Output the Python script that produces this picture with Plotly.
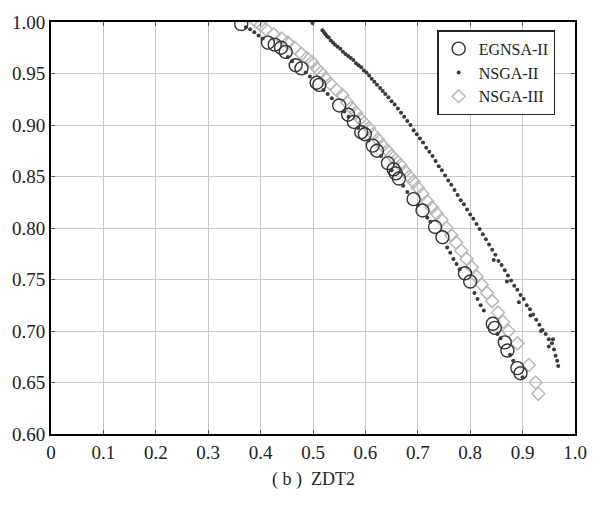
import plotly.graph_objects as go

# EGNSA-II (open circles)
egnsa_x = [0.363, 0.414, 0.427, 0.439, 0.448, 0.467, 0.478, 0.507, 0.512, 0.550, 0.567, 0.578,
           0.592, 0.599, 0.614, 0.622, 0.643, 0.654, 0.658, 0.664, 0.692, 0.709, 0.733, 0.747,
           0.790, 0.800, 0.843, 0.847, 0.866, 0.871, 0.890, 0.896]
egnsa_y = [0.998, 0.980, 0.978, 0.975, 0.971, 0.958, 0.955, 0.941, 0.939, 0.919, 0.910, 0.903,
           0.893, 0.891, 0.880, 0.875, 0.863, 0.857, 0.853, 0.848, 0.828, 0.817, 0.801, 0.791,
           0.756, 0.748, 0.707, 0.703, 0.689, 0.681, 0.664, 0.659]

# NSGA-II (dots) - outer front
nsga2_x = [0.499, 0.518, 0.521, 0.524, 0.527, 0.530, 0.534, 0.538, 0.542, 0.547, 0.552, 0.557,
           0.562, 0.567, 0.572, 0.577, 0.582, 0.587, 0.592, 0.597, 0.602, 0.607, 0.612, 0.617,
           0.622, 0.628, 0.633, 0.638, 0.644, 0.650, 0.656, 0.662, 0.668, 0.674, 0.680, 0.686,
           0.692, 0.698, 0.704, 0.710, 0.716, 0.722, 0.728, 0.734, 0.740, 0.746, 0.752, 0.758,
           0.764, 0.770, 0.776, 0.782, 0.788, 0.794, 0.800, 0.806, 0.812, 0.818, 0.824, 0.830,
           0.836, 0.842, 0.848, 0.854, 0.860, 0.866, 0.872, 0.878, 0.884, 0.890, 0.896, 0.902,
           0.908, 0.914, 0.920, 0.926, 0.932, 0.938, 0.944, 0.950, 0.956, 0.960, 0.963, 0.966,
           0.968, 0.845, 0.870, 0.893, 0.915, 0.935, 0.950, 0.958]
nsga2_y = [0.999, 0.992, 0.990, 0.988, 0.986, 0.985, 0.982, 0.980, 0.978, 0.976, 0.974, 0.971,
           0.969, 0.967, 0.965, 0.963, 0.960, 0.958, 0.956, 0.953, 0.951, 0.948, 0.945, 0.942,
           0.939, 0.936, 0.933, 0.930, 0.927, 0.923, 0.920, 0.916, 0.912, 0.908, 0.904, 0.900,
           0.895, 0.891, 0.887, 0.883, 0.878, 0.874, 0.870, 0.865, 0.860, 0.856, 0.851, 0.846,
           0.842, 0.837, 0.832, 0.827, 0.823, 0.818, 0.813, 0.809, 0.804, 0.799, 0.794, 0.789,
           0.784, 0.779, 0.774, 0.768, 0.764, 0.759, 0.754, 0.749, 0.744, 0.740, 0.735, 0.731,
           0.725, 0.721, 0.716, 0.711, 0.706, 0.701, 0.697, 0.692, 0.688, 0.682, 0.676, 0.671,
           0.666, 0.769, 0.748, 0.728, 0.715, 0.700, 0.685, 0.692]

# dark dots along the inner front
inner_x = [0.372, 0.380, 0.388, 0.396, 0.404, 0.452, 0.460, 0.486, 0.494, 0.520, 0.528, 0.536,
           0.560, 0.568, 0.586, 0.606, 0.630, 0.650, 0.672, 0.680, 0.700, 0.718, 0.724, 0.756,
           0.762, 0.768, 0.774, 0.780, 0.808, 0.814, 0.820, 0.826, 0.852, 0.858, 0.876, 0.882,
           0.900]
inner_y = [0.995, 0.993, 0.990, 0.987, 0.984, 0.966, 0.962, 0.951, 0.947, 0.934, 0.930, 0.926,
           0.913, 0.908, 0.897, 0.885, 0.870, 0.856, 0.841, 0.835, 0.822, 0.810, 0.806, 0.781,
           0.776, 0.770, 0.765, 0.760, 0.737, 0.731, 0.725, 0.720, 0.697, 0.693, 0.677, 0.671,
           0.655]

# NSGA-III (open diamonds)
nsga3_x = [0.392, 0.400, 0.410, 0.425, 0.440, 0.452, 0.465, 0.478, 0.488, 0.498, 0.507, 0.515,
           0.524, 0.533, 0.545, 0.556, 0.565, 0.573, 0.582, 0.590, 0.598, 0.607, 0.615, 0.624,
           0.633, 0.642, 0.650, 0.658, 0.667, 0.676, 0.684, 0.692, 0.700, 0.709, 0.718, 0.727,
           0.736, 0.745, 0.755, 0.764, 0.773, 0.783, 0.793, 0.803, 0.812, 0.822, 0.832, 0.842,
           0.853, 0.863, 0.873, 0.890, 0.912, 0.925, 0.930]
nsga3_y = [1.000, 0.997, 0.993, 0.988, 0.984, 0.980, 0.975, 0.969, 0.965, 0.961, 0.955, 0.951,
           0.945, 0.940, 0.934, 0.929, 0.922, 0.917, 0.912, 0.906, 0.902, 0.897, 0.891, 0.886,
           0.880, 0.875, 0.870, 0.866, 0.861, 0.855, 0.850, 0.845, 0.839, 0.833, 0.826, 0.820,
           0.814, 0.808, 0.800, 0.793, 0.786, 0.778, 0.770, 0.762, 0.753, 0.745, 0.737, 0.729,
           0.718, 0.709, 0.700, 0.688, 0.667, 0.650, 0.639]

x_ticks = [0, 0.1, 0.2, 0.3, 0.4, 0.5, 0.6, 0.7, 0.8, 0.9, 1.0]
x_labels = ["0", "0.1", "0.2", "0.3", "0.4", "0.5", "0.6", "0.7", "0.8", "0.9", "1.0"]
y_ticks = [0.60, 0.65, 0.70, 0.75, 0.80, 0.85, 0.90, 0.95, 1.00]
y_labels = ["0.60", "0.65", "0.70", "0.75", "0.80", "0.85", "0.90", "0.95", "1.00"]

FONT = "Liberation Serif"

fig = go.Figure()
fig.add_trace(go.Scatter(
    x=nsga3_x, y=nsga3_y, mode="markers", name="NSGA-III", legendrank=3,
    marker=dict(symbol="diamond-open", size=10, color="#b8b8b8", line=dict(width=1.5))))
fig.add_trace(go.Scatter(
    x=egnsa_x, y=egnsa_y, mode="markers", name="EGNSA-II", legendrank=1,
    marker=dict(symbol="circle-open", size=13, color="#333333", line=dict(width=1.4))))
fig.add_trace(go.Scatter(
    x=nsga2_x, y=nsga2_y, mode="markers", name="NSGA-II", legendrank=2,
    marker=dict(symbol="circle", size=4, color="#3a3a3a")))
fig.add_trace(go.Scatter(
    x=inner_x, y=inner_y, mode="markers", name="NSGA-II", showlegend=False,
    marker=dict(symbol="circle", size=4, color="#3a3a3a")))

axis_common = dict(
    showline=True, linecolor="black", linewidth=2, mirror="ticks",
    ticks="inside", ticklen=4, tickcolor="#555555", tickwidth=1,
    showgrid=True, gridcolor="#c8c8c8", gridwidth=1.4, zeroline=False,
    tickfont=dict(family=FONT, size=19, color="#222222"),
)

fig.update_layout(
    width=599, height=506,
    margin=dict(l=49, r=19, t=16, b=72),
    paper_bgcolor="white", plot_bgcolor="white",
    showlegend=True,
    legend=dict(
        x=0.737, y=0.98, xanchor="left", yanchor="top",
        bordercolor="#222222", borderwidth=1.5, bgcolor="white",
        font=dict(family=FONT, size=16, color="#222222"),
        itemsizing="trace", tracegroupgap=0,
    ),
    xaxis=dict(range=[0, 1.0], tickvals=x_ticks, ticktext=x_labels, **axis_common),
    yaxis=dict(range=[0.60, 1.00], tickvals=y_ticks, ticktext=y_labels, **axis_common),
    annotations=[dict(
        text="( b )  ZDT2", xref="paper", yref="paper", x=0.5, y=-0.11,
        xanchor="center", yanchor="middle", showarrow=False,
        font=dict(family=FONT, size=18, color="#222222"))],
)

fig.write_html("out.html")
